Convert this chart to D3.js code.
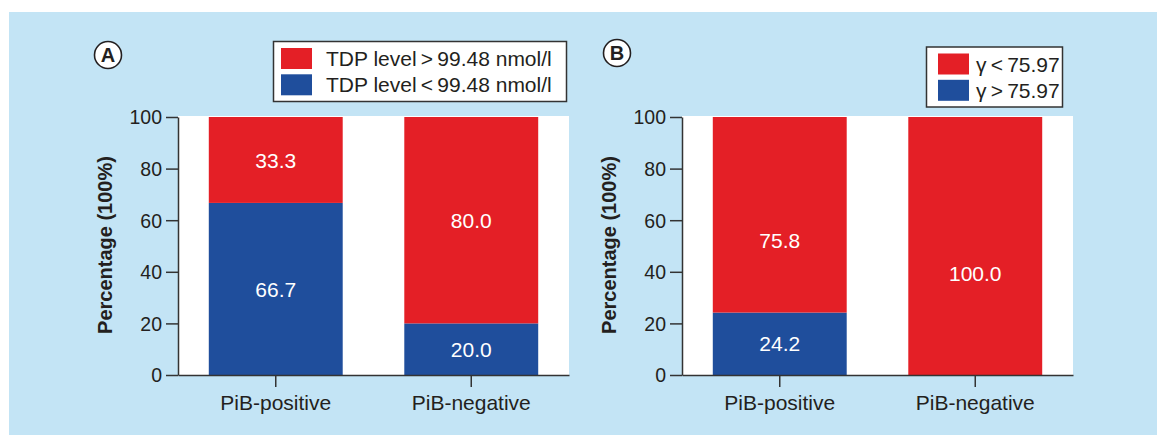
<!DOCTYPE html>
<html>
<head>
<meta charset="utf-8">
<script src="https://cdn.jsdelivr.net/npm/d3@7"></script>
<style>
	body { margin: 0; background: #fff; }
	text { font-family: "Liberation Sans", Arial, Helvetica, sans-serif; fill: #231f20; }
</style>
</head>
<body>
<script>
const w = 1157,
	h = 435;

// categories
const groups = ['PiB-positive', 'PiB-negative'];
const yTicks = [0, 20, 40, 60, 80, 100];

// panel A: TDP level
const lowA = [66.7, 20.0];
const highA = [33.3, 80.0];
const legendA = ['TDP level\u2009>\u200999.48 nmol/l', 'TDP level\u2009<\u200999.48 nmol/l'];

// panel B: gamma
const highB = [24.2, 0];
const lowB = [75.8, 100.0];
const legendB = ['\u03b3\u2009<\u200975.97', '\u03b3\u2009>\u200975.97'];
// where the red labels of panel B sit (in %)
const redLabelAtB = [52, 39.5];

const red = '#e41f26',
	blue = '#1f4e9c',
	bg = '#c3e4f5',
	ink = '#231f20';

const svg = d3.select('body')
	.append('svg')
	.attr('width', w)
	.attr('height', h);

svg.append('rect').attr('width', w).attr('height', h).attr('fill', '#fff');
svg.append('rect').attr('x', 9).attr('y', 12).attr('width', w - 9).attr('height', h - 12).attr('fill', bg);

const plotTop = 117,
	plotBottom = 375,
	plotW = 391;

const y = d3.scaleLinear().domain([0, 100]).range([plotBottom, plotTop]);

function drawPanel(opts) {
	const left = opts.left;
	const x = d3.scaleBand()
		.domain(groups)
		.range([left, left + plotW])
		.paddingInner(0.315)
		.paddingOuter(0.1575);

	const g = svg.append('g');

	//white plot area
	g.append('rect')
		.attr('x', left)
		.attr('y', plotTop - 1)
		.attr('width', plotW)
		.attr('height', plotBottom - plotTop + 1)
		.attr('fill', '#fff');

	//stacked bars: blue at the bottom, red on top
	g.selectAll('rect.lower')
		.data(groups)
		.enter()
		.append('rect')
		.attr('x', (d) => x(d))
		.attr('width', x.bandwidth())
		.attr('y', (d, i) => y(opts.lower[i]))
		.attr('height', (d, i) => y(0) - y(opts.lower[i]))
		.attr('fill', blue);

	g.selectAll('rect.upper')
		.data(groups)
		.enter()
		.append('rect')
		.attr('x', (d) => x(d))
		.attr('width', x.bandwidth())
		.attr('y', (d, i) => y(opts.lower[i] + opts.upper[i]))
		.attr('height', (d, i) => y(opts.lower[i]) - y(opts.lower[i] + opts.upper[i]))
		.attr('fill', red);

	//value labels
	const labels = [];
	groups.forEach((d, i) => {
		if (opts.lower[i] > 0) labels.push({g: d, v: opts.lower[i], at: opts.lower[i] / 2});
		if (opts.upper[i] > 0) {
			const at = opts.upperAt ? opts.upperAt[i] : opts.lower[i] + opts.upper[i] / 2;
			labels.push({g: d, v: opts.upper[i], at: at});
		}
	});
	g.selectAll('text.val')
		.data(labels)
		.enter()
		.append('text')
		.attr('x', (d) => x(d.g) + x.bandwidth() / 2)
		.attr('y', (d) => y(d.at))
		.attr('dy', '0.36em')
		.attr('text-anchor', 'middle')
		.style('font-size', '21px')
		.style('fill', '#fff')
		.text((d) => d.v.toFixed(1));

	//axes
	const yAxis = g.append('g')
		.attr('transform', `translate(${left},0)`)
		.call(d3.axisLeft(y).tickValues(yTicks).tickSize(12).tickSizeOuter(0).tickPadding(4));
	yAxis.selectAll('text').style('font-size', '19.5px').style('fill', ink).attr('dy', '0.35em');

	const xAxis = g.append('g')
		.attr('transform', `translate(0,${plotBottom})`)
		.call(d3.axisBottom(x).tickSize(12).tickSizeOuter(0).tickPadding(8));
	xAxis.selectAll('text').style('font-size', '21px').style('fill', ink);

	g.selectAll('.domain, .tick line').attr('stroke', '#333').attr('stroke-width', 1.5);

	//axis title
	g.append('text')
		.attr('transform', `translate(${left - 66},${(plotTop + plotBottom) / 2 - 1}) rotate(-90)`)
		.attr('text-anchor', 'middle')
		.style('font-size', '20px')
		.style('font-weight', 'bold')
		.text('Percentage (100%)');

	//panel letter
	g.append('circle')
		.attr('cx', opts.letterX)
		.attr('cy', opts.letterY)
		.attr('r', 13.5)
		.attr('fill', '#fff')
		.attr('stroke', ink)
		.attr('stroke-width', 1.6);
	g.append('text')
		.attr('x', opts.letterX)
		.attr('y', opts.letterY)
		.attr('dy', '0.36em')
		.attr('text-anchor', 'middle')
		.style('font-size', '20px')
		.style('font-weight', 'bold')
		.text(opts.letter);

	//legend
	const L = opts.legend;
	g.append('rect')
		.attr('x', L.x)
		.attr('y', L.y)
		.attr('width', L.w)
		.attr('height', L.h)
		.attr('fill', '#fff')
		.attr('stroke', '#333')
		.attr('stroke-width', 1.5);
	const items = g.selectAll('g.leg')
		.data(opts.legendText)
		.enter()
		.append('g')
		.attr('transform', (d, i) => `translate(${L.x + L.pad},${L.y + 6.5 + i * 26.3})`);
	items.append('rect')
		.attr('width', 31)
		.attr('height', 21)
		.attr('fill', (d, i) => i === 0 ? red : blue);
	items.append('text')
		.attr('x', L.textX)
		.attr('y', 18)
		.style('font-size', '21px')
		.text((d) => d);
}

drawPanel({
	left: 178,
	lower: lowA,
	upper: highA,
	letter: 'A',
	letterX: 108,
	letterY: 55,
	legendText: legendA,
	legend: {x: 273.5, y: 41.5, w: 293, h: 60, pad: 7.5, textX: 45}
});

drawPanel({
	left: 682,
	lower: highB,
	upper: lowB,
	upperAt: redLabelAtB,
	letter: 'B',
	letterX: 617,
	letterY: 53,
	legendText: legendB,
	legend: {x: 926.5, y: 47, w: 136, h: 60, pad: 11.5, textX: 38}
});
</script>
</body>
</html>
